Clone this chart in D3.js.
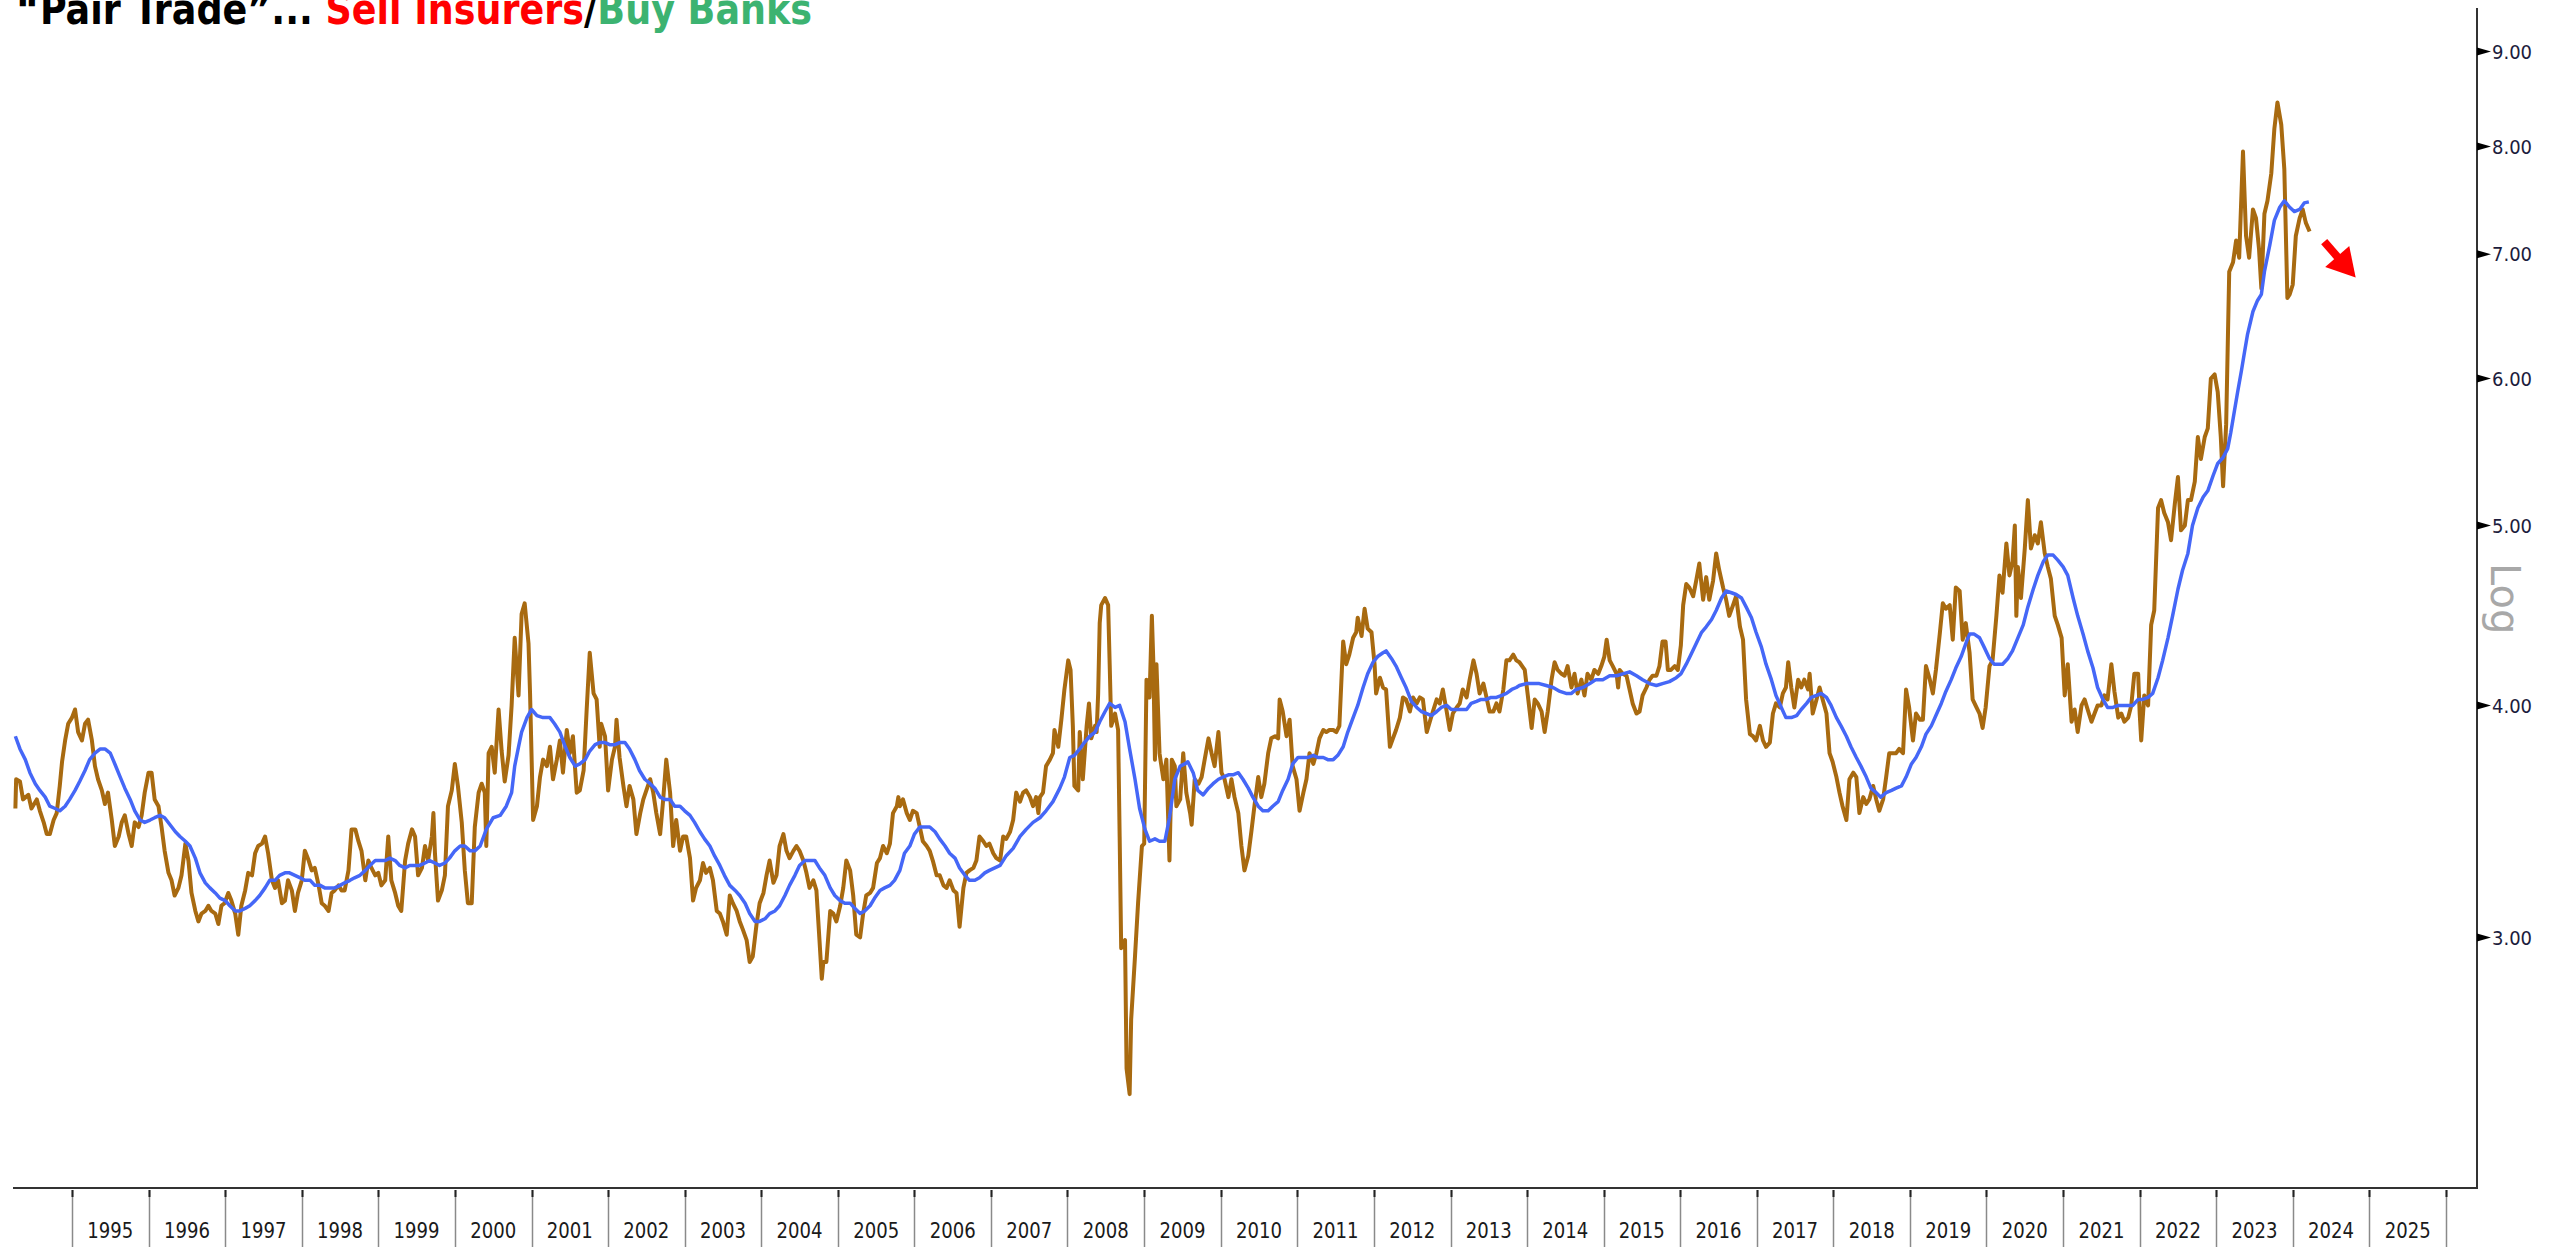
<!DOCTYPE html>
<html>
<head>
<meta charset="utf-8">
<script src="https://cdn.jsdelivr.net/npm/d3@7"></script>
<style>
  html, body { margin: 0; padding: 0; background: #fff; }
  svg { display: block; }
</style>
</head>
<body>
<svg id="chart" width="2561" height="1247"></svg>
<script>
// ---- data (decimal year, ratio) ----
const titleParts = ['\u201CPair Trade\u201D... ', 'Sell Insurers', '/', 'Buy Banks'];
const yearLabels = ['1995','1996','1997','1998','1999','2000','2001','2002','2003','2004','2005','2006','2007','2008','2009','2010','2011','2012','2013','2014','2015','2016','2017','2018','2019','2020','2021','2022','2023','2024','2025'];
const priceTicks = [3, 4, 5, 6, 7, 8, 9];
const axisTitle = 'Log';

// insurers / banks ratio, weekly-ish readings
const ratio = [
[1994.26,3.52],[1994.27,3.65],[1994.32,3.64],[1994.36,3.56],[1994.43,3.58],[1994.47,3.52],[1994.54,3.56],[1994.58,3.51],[1994.63,3.46],[1994.67,3.41],[1994.71,3.41],[1994.76,3.47],[1994.80,3.50],[1994.84,3.62],[1994.87,3.73],[1994.91,3.83],[1994.95,3.91],[1995.00,3.94],[1995.04,3.98],[1995.08,3.87],[1995.13,3.83],[1995.17,3.91],[1995.21,3.93],[1995.26,3.83],[1995.30,3.71],[1995.34,3.65],[1995.39,3.60],[1995.43,3.54],[1995.47,3.59],[1995.52,3.47],[1995.56,3.36],[1995.61,3.40],[1995.65,3.46],[1995.69,3.49],[1995.74,3.41],[1995.78,3.36],[1995.82,3.46],[1995.87,3.44],[1995.91,3.49],[1995.95,3.59],[1996.00,3.68],[1996.04,3.68],[1996.08,3.56],[1996.13,3.53],[1996.17,3.44],[1996.21,3.34],[1996.26,3.25],[1996.30,3.22],[1996.34,3.16],[1996.39,3.19],[1996.43,3.24],[1996.48,3.37],[1996.52,3.30],[1996.56,3.17],[1996.61,3.10],[1996.65,3.06],[1996.69,3.09],[1996.74,3.10],[1996.78,3.12],[1996.82,3.10],[1996.87,3.09],[1996.91,3.05],[1996.95,3.12],[1996.99,3.13],[1997.04,3.17],[1997.08,3.14],[1997.13,3.09],[1997.17,3.01],[1997.21,3.12],[1997.26,3.18],[1997.30,3.25],[1997.35,3.24],[1997.39,3.33],[1997.43,3.36],[1997.48,3.37],[1997.52,3.40],[1997.56,3.33],[1997.61,3.22],[1997.65,3.19],[1997.69,3.22],[1997.74,3.13],[1997.78,3.14],[1997.82,3.22],[1997.87,3.18],[1997.91,3.10],[1997.95,3.17],[1998.00,3.22],[1998.04,3.34],[1998.09,3.30],[1998.13,3.26],[1998.17,3.27],[1998.22,3.20],[1998.26,3.13],[1998.30,3.12],[1998.35,3.10],[1998.39,3.17],[1998.43,3.18],[1998.48,3.20],[1998.52,3.18],[1998.56,3.18],[1998.61,3.26],[1998.65,3.43],[1998.70,3.43],[1998.74,3.38],[1998.78,3.34],[1998.83,3.22],[1998.87,3.30],[1998.91,3.27],[1998.96,3.24],[1999.00,3.25],[1999.04,3.20],[1999.09,3.22],[1999.13,3.40],[1999.17,3.22],[1999.22,3.17],[1999.26,3.12],[1999.30,3.10],[1999.35,3.30],[1999.39,3.37],[1999.44,3.43],[1999.48,3.40],[1999.52,3.24],[1999.57,3.27],[1999.61,3.36],[1999.65,3.30],[1999.70,3.40],[1999.72,3.50],[1999.74,3.33],[1999.78,3.14],[1999.83,3.18],[1999.87,3.24],[1999.91,3.53],[1999.96,3.60],[2000.00,3.72],[2000.04,3.62],[2000.09,3.46],[2000.13,3.26],[2000.17,3.13],[2000.22,3.13],[2000.26,3.44],[2000.31,3.59],[2000.35,3.63],[2000.39,3.59],[2000.41,3.36],[2000.44,3.77],[2000.48,3.80],[2000.52,3.68],[2000.57,3.98],[2000.61,3.78],[2000.65,3.64],[2000.70,3.76],[2000.74,4.00],[2000.78,4.35],[2000.83,4.05],
[2000.87,4.48],[2000.91,4.54],[2000.96,4.32],[2000.98,4.06],[2001.02,3.47],[2001.07,3.53],[2001.11,3.66],[2001.15,3.74],[2001.20,3.71],[2001.24,3.80],[2001.28,3.65],[2001.33,3.74],[2001.37,3.83],[2001.41,3.68],[2001.46,3.88],[2001.50,3.77],[2001.54,3.85],[2001.59,3.59],[2001.63,3.60],[2001.68,3.69],[2001.72,3.98],[2001.76,4.27],[2001.81,4.06],[2001.85,4.03],[2001.89,3.80],[2001.91,3.91],[2001.96,3.85],[2002.00,3.60],[2002.05,3.74],[2002.09,3.80],[2002.11,3.93],[2002.15,3.75],[2002.20,3.62],[2002.24,3.53],[2002.28,3.62],[2002.33,3.56],[2002.37,3.41],[2002.42,3.50],[2002.46,3.56],[2002.50,3.60],[2002.55,3.65],[2002.59,3.59],[2002.63,3.50],[2002.68,3.41],[2002.72,3.56],[2002.76,3.74],[2002.81,3.59],[2002.85,3.36],[2002.89,3.47],[2002.94,3.34],[2002.98,3.40],[2003.02,3.40],[2003.07,3.31],[2003.11,3.14],[2003.15,3.19],[2003.20,3.22],[2003.24,3.29],[2003.28,3.25],[2003.33,3.27],[2003.37,3.22],[2003.42,3.10],[2003.46,3.09],[2003.50,3.06],[2003.55,3.01],[2003.59,3.16],[2003.63,3.13],[2003.68,3.10],[2003.72,3.06],[2003.76,3.03],[2003.81,2.99],[2003.85,2.91],[2003.89,2.93],[2003.94,3.05],[2003.98,3.13],[2004.03,3.17],[2004.07,3.24],[2004.11,3.30],[2004.16,3.21],[2004.20,3.24],[2004.24,3.36],[2004.29,3.41],[2004.33,3.34],[2004.37,3.31],[2004.42,3.34],[2004.46,3.36],[2004.50,3.34],[2004.55,3.30],[2004.59,3.25],[2004.63,3.19],[2004.68,3.22],[2004.72,3.18],[2004.76,2.99],[2004.79,2.85],[2004.81,2.91],[2004.85,2.91],[2004.90,3.10],[2004.94,3.09],[2004.98,3.06],[2005.03,3.12],[2005.07,3.19],[2005.11,3.30],[2005.16,3.26],[2005.20,3.16],[2005.24,3.01],[2005.29,3.00],[2005.33,3.09],[2005.37,3.16],[2005.42,3.17],[2005.46,3.19],[2005.51,3.29],[2005.55,3.31],[2005.59,3.36],[2005.64,3.33],[2005.68,3.37],[2005.72,3.50],[2005.77,3.53],[2005.79,3.57],[2005.81,3.53],[2005.85,3.56],[2005.90,3.50],[2005.94,3.47],[2005.98,3.51],[2006.03,3.50],[2006.07,3.44],[2006.11,3.38],[2006.16,3.36],[2006.20,3.34],[2006.24,3.30],[2006.29,3.24],[2006.33,3.24],[2006.38,3.20],[2006.42,3.19],[2006.46,3.22],[2006.51,3.18],[2006.55,3.17],[2006.59,3.04],[2006.64,3.19],[2006.68,3.25],[2006.72,3.26],[2006.77,3.27],[2006.81,3.30],[2006.85,3.40],[2006.90,3.38],[2006.94,3.36],[2006.98,3.37],[2007.03,3.33],[2007.07,3.31],
[2007.12,3.30],[2007.16,3.40],[2007.20,3.39],[2007.25,3.42],[2007.29,3.47],[2007.33,3.59],[2007.38,3.55],[2007.42,3.59],[2007.46,3.60],[2007.51,3.57],[2007.55,3.53],[2007.59,3.57],[2007.62,3.50],[2007.64,3.57],[2007.68,3.59],[2007.72,3.71],[2007.77,3.74],[2007.81,3.77],[2007.83,3.88],[2007.88,3.80],[2007.92,3.93],[2007.96,4.08],[2008.01,4.23],[2008.04,4.18],[2008.07,3.90],[2008.09,3.62],[2008.14,3.60],[2008.16,3.87],[2008.20,3.65],[2008.25,3.90],[2008.28,4.01],[2008.31,3.84],[2008.36,3.90],[2008.38,3.87],[2008.40,4.06],[2008.42,4.43],[2008.44,4.53],[2008.49,4.57],[2008.53,4.53],[2008.55,4.21],[2008.57,3.90],[2008.62,3.96],[2008.66,3.88],[2008.68,3.40],[2008.70,2.96],[2008.75,2.99],[2008.77,2.55],[2008.81,2.47],[2008.83,2.71],[2008.88,2.93],[2008.92,3.13],[2008.97,3.36],[2009.00,3.37],[2009.03,4.13],[2009.07,4.04],[2009.10,4.47],[2009.12,4.21],[2009.14,3.74],[2009.16,4.21],[2009.20,3.77],[2009.25,3.65],[2009.29,3.74],[2009.33,3.30],[2009.36,3.74],[2009.40,3.71],[2009.42,3.53],[2009.47,3.56],[2009.51,3.77],[2009.55,3.59],[2009.60,3.50],[2009.62,3.45],[2009.66,3.65],[2009.71,3.63],[2009.75,3.66],[2009.79,3.74],[2009.84,3.84],[2009.88,3.77],[2009.92,3.71],[2009.97,3.87],[2010.01,3.68],[2010.05,3.65],[2010.10,3.57],[2010.14,3.65],[2010.18,3.57],[2010.23,3.50],[2010.27,3.36],[2010.31,3.26],[2010.36,3.32],[2010.40,3.42],[2010.44,3.53],[2010.49,3.66],[2010.53,3.57],[2010.57,3.63],[2010.62,3.77],[2010.66,3.84],[2010.71,3.85],[2010.75,3.84],[2010.77,4.03],[2010.81,3.97],[2010.86,3.85],[2010.90,3.93],[2010.94,3.71],[2010.99,3.65],[2011.03,3.51],[2011.08,3.59],[2011.12,3.65],[2011.16,3.77],[2011.21,3.72],[2011.25,3.77],[2011.29,3.84],[2011.34,3.88],[2011.38,3.87],[2011.42,3.88],[2011.47,3.88],[2011.51,3.87],[2011.55,3.90],[2011.60,4.33],[2011.64,4.21],[2011.68,4.26],[2011.73,4.35],[2011.77,4.38],[2011.79,4.46],[2011.84,4.36],[2011.88,4.51],[2011.92,4.40],[2011.97,4.38],[2012.01,4.21],[2012.03,4.06],[2012.08,4.14],[2012.12,4.09],[2012.16,4.08],[2012.21,3.80],[2012.25,3.84],[2012.29,3.88],[2012.34,3.94],[2012.38,4.04],[2012.42,4.03],[2012.47,3.97],[2012.51,4.04],[2012.56,4.01],[2012.60,4.04],[2012.64,4.03],[2012.69,3.87],[2012.73,3.92],[2012.77,3.97],[2012.82,4.03],[2012.86,4.01],[2012.90,4.08],[2012.95,3.97],[2012.99,3.88],[2013.03,3.96],[2013.08,3.99],[2013.12,4.01],[2013.16,4.08],[2013.21,4.04],[2013.25,4.13],[2013.30,4.23],[2013.34,4.16],[2013.38,4.06],[2013.43,4.11],[2013.47,4.04],[2013.51,3.97],[2013.56,3.97],[2013.60,4.01],[2013.64,3.97],[2013.69,4.08],[2013.73,4.23],[2013.77,4.23],[2013.82,4.26],[2013.86,4.23],
[2013.90,4.22],[2013.97,4.18],[2014.01,4.05],[2014.06,3.89],[2014.10,4.03],[2014.14,4.01],[2014.19,3.97],[2014.23,3.87],[2014.27,3.97],[2014.32,4.13],[2014.36,4.22],[2014.40,4.18],[2014.45,4.16],[2014.49,4.15],[2014.53,4.20],[2014.58,4.09],[2014.62,4.16],[2014.66,4.06],[2014.71,4.13],[2014.75,4.05],[2014.79,4.16],[2014.84,4.13],[2014.88,4.18],[2014.93,4.16],[2014.97,4.20],[2015.01,4.25],[2015.04,4.34],[2015.08,4.23],[2015.12,4.20],[2015.17,4.16],[2015.19,4.09],[2015.21,4.18],[2015.25,4.16],[2015.30,4.15],[2015.34,4.08],[2015.38,4.01],[2015.43,3.96],[2015.47,3.97],[2015.51,4.05],[2015.56,4.09],[2015.60,4.13],[2015.64,4.15],[2015.69,4.15],[2015.73,4.20],[2015.77,4.33],[2015.81,4.33],[2015.84,4.18],[2015.88,4.18],[2015.93,4.20],[2015.97,4.18],[2016.01,4.31],[2016.04,4.53],[2016.08,4.65],[2016.12,4.63],[2016.17,4.58],[2016.21,4.67],[2016.25,4.77],[2016.30,4.56],[2016.34,4.69],[2016.38,4.56],[2016.43,4.67],[2016.47,4.83],[2016.51,4.73],[2016.56,4.63],[2016.60,4.56],[2016.64,4.47],[2016.69,4.53],[2016.73,4.58],[2016.78,4.41],[2016.82,4.34],[2016.86,4.03],[2016.91,3.86],[2016.95,3.85],[2016.99,3.83],[2017.04,3.90],[2017.08,3.83],[2017.12,3.80],[2017.17,3.82],[2017.21,3.96],[2017.25,4.01],[2017.30,3.99],[2017.34,4.06],[2017.38,4.09],[2017.41,4.22],[2017.45,4.09],[2017.49,3.99],[2017.54,4.13],[2017.58,4.09],[2017.62,4.13],[2017.67,4.08],[2017.69,4.16],[2017.73,3.96],[2017.78,4.03],[2017.82,4.09],[2017.86,4.03],[2017.91,3.96],[2017.95,3.77],[2017.99,3.73],[2018.04,3.66],[2018.08,3.59],[2018.12,3.53],[2018.17,3.47],[2018.21,3.65],[2018.26,3.68],[2018.30,3.66],[2018.34,3.50],[2018.39,3.57],[2018.43,3.54],[2018.47,3.56],[2018.52,3.62],[2018.56,3.56],[2018.60,3.51],[2018.65,3.56],[2018.69,3.66],[2018.73,3.77],[2018.78,3.77],[2018.82,3.77],[2018.86,3.79],[2018.91,3.77],[2018.95,4.08],[2018.99,3.99],[2019.04,3.83],[2019.08,3.96],[2019.13,3.93],[2019.17,3.93],[2019.21,4.20],[2019.26,4.13],[2019.30,4.06],[2019.34,4.18],[2019.39,4.37],[2019.43,4.54],[2019.47,4.51],[2019.52,4.53],[2019.56,4.34],[2019.60,4.63],[2019.65,4.61],[2019.69,4.34],[2019.73,4.43],[2019.78,4.27],[2019.82,4.03],[2019.87,3.99],[2019.91,3.96],[2019.95,3.89],[2019.99,3.99],[2020.04,4.20],[2020.08,4.23],[2020.13,4.47],
[2020.17,4.70],[2020.21,4.60],[2020.26,4.89],[2020.30,4.70],[2020.34,4.78],[2020.37,5.00],[2020.39,4.47],[2020.41,4.75],[2020.45,4.57],[2020.50,4.86],[2020.54,5.16],[2020.58,4.86],[2020.63,4.94],[2020.67,4.89],[2020.71,5.02],[2020.76,4.83],[2020.80,4.75],[2020.84,4.68],[2020.89,4.47],[2020.93,4.42],[2020.98,4.35],[2021.02,4.05],[2021.06,4.21],[2021.11,3.92],[2021.15,3.98],[2021.19,3.87],[2021.24,4.00],[2021.28,4.03],[2021.32,3.98],[2021.37,3.92],[2021.41,3.96],[2021.45,4.00],[2021.50,4.00],[2021.54,4.05],[2021.58,4.03],[2021.63,4.21],[2021.67,4.07],[2021.72,3.94],[2021.76,3.96],[2021.80,3.92],[2021.85,3.94],[2021.89,4.00],[2021.93,4.16],[2021.98,4.16],[2022.00,3.96],[2022.02,3.83],[2022.06,4.05],[2022.11,4.00],[2022.15,4.42],[2022.19,4.50],[2022.24,5.11],[2022.28,5.16],[2022.32,5.08],[2022.37,5.02],[2022.41,4.91],[2022.46,5.14],[2022.50,5.31],[2022.54,4.97],[2022.59,5.00],[2022.63,5.16],[2022.67,5.16],[2022.72,5.28],[2022.76,5.58],[2022.80,5.43],[2022.85,5.58],[2022.89,5.64],[2022.93,6.00],[2022.98,6.03],[2023.02,5.90],[2023.06,5.58],[2023.09,5.25],[2023.13,5.67],[2023.17,6.85],[2023.22,6.93],[2023.26,7.12],[2023.30,6.97],[2023.35,7.95],[2023.39,7.16],[2023.43,6.97],[2023.48,7.40],[2023.52,7.32],[2023.56,7.04],[2023.59,6.71],[2023.63,7.36],[2023.67,7.48],[2023.72,7.74],[2023.76,8.18],[2023.80,8.45],[2023.85,8.22],[2023.89,7.78],[2023.93,6.63],[2023.96,6.66],[2024.00,6.74],[2024.04,7.16],[2024.09,7.32],[2024.13,7.40],[2024.17,7.28],[2024.22,7.20]
];

// moving average of the ratio
const ratioAverage = [
[1994.26,3.85],[1994.32,3.79],[1994.39,3.74],[1994.45,3.68],[1994.52,3.63],[1994.58,3.60],[1994.65,3.57],[1994.71,3.53],[1994.78,3.52],[1994.84,3.51],[1994.91,3.53],[1994.97,3.56],[1995.04,3.60],[1995.10,3.64],[1995.17,3.69],[1995.23,3.74],[1995.30,3.77],[1995.37,3.79],[1995.43,3.79],[1995.50,3.77],[1995.56,3.72],[1995.63,3.66],[1995.69,3.61],[1995.76,3.56],[1995.82,3.51],[1995.89,3.47],[1995.95,3.46],[1996.02,3.47],[1996.08,3.48],[1996.15,3.49],[1996.21,3.48],[1996.28,3.45],[1996.35,3.42],[1996.41,3.40],[1996.48,3.38],[1996.54,3.36],[1996.61,3.31],[1996.67,3.25],[1996.74,3.21],[1996.80,3.19],[1996.87,3.17],[1996.93,3.15],[1997.00,3.14],[1997.06,3.12],[1997.13,3.10],[1997.19,3.10],[1997.26,3.11],[1997.32,3.12],[1997.39,3.14],[1997.45,3.16],[1997.52,3.19],[1997.58,3.22],[1997.65,3.22],[1997.71,3.24],[1997.78,3.25],[1997.84,3.25],[1997.91,3.24],[1997.98,3.23],[1998.04,3.22],[1998.11,3.22],[1998.17,3.20],[1998.24,3.20],[1998.30,3.19],[1998.37,3.19],[1998.43,3.19],[1998.50,3.20],[1998.56,3.21],[1998.63,3.22],[1998.69,3.23],[1998.76,3.24],[1998.83,3.26],[1998.89,3.28],[1998.96,3.30],[1999.02,3.30],[1999.09,3.30],[1999.15,3.31],[1999.22,3.30],[1999.28,3.28],[1999.35,3.27],[1999.41,3.28],[1999.48,3.28],[1999.54,3.28],[1999.61,3.29],[1999.67,3.30],[1999.74,3.29],[1999.80,3.28],[1999.87,3.29],[1999.93,3.31],[2000.00,3.34],[2000.07,3.36],[2000.13,3.36],[2000.20,3.34],[2000.26,3.34],[2000.33,3.36],[2000.41,3.43],[2000.50,3.48],[2000.59,3.49],[2000.67,3.53],[2000.74,3.59],[2000.78,3.71],[2000.83,3.80],[2000.87,3.87],[2000.94,3.94],[2001.00,3.98],[2001.07,3.95],[2001.15,3.94],[2001.24,3.94],[2001.30,3.91],[2001.37,3.87],[2001.44,3.80],[2001.50,3.75],[2001.57,3.71],[2001.63,3.72],[2001.70,3.74],[2001.76,3.78],[2001.83,3.81],[2001.89,3.82],[2001.96,3.82],[2002.02,3.81],[2002.09,3.81],[2002.15,3.82],[2002.22,3.82],[2002.28,3.79],[2002.35,3.74],[2002.41,3.69],[2002.48,3.65],[2002.55,3.63],[2002.61,3.61],[2002.68,3.57],[2002.74,3.56],[2002.81,3.56],[2002.87,3.53],[2002.94,3.53],[2003.00,3.51],[2003.07,3.49],[2003.13,3.46],[2003.20,3.42],[2003.26,3.39],[2003.33,3.36],[2003.39,3.32],[2003.46,3.28],[2003.52,3.24],[2003.59,3.20],[2003.66,3.18],[2003.72,3.16],[2003.79,3.13],[2003.85,3.09],[2003.92,3.06],[2003.98,3.06],[2004.05,3.07],[2004.11,3.09],[2004.18,3.10],[2004.24,3.12],[2004.31,3.16],[2004.37,3.20],[2004.44,3.24],[2004.50,3.28],[2004.57,3.30],[2004.63,3.30],[2004.70,3.30],[2004.76,3.27],[2004.83,3.24],[2004.90,3.19],[2004.96,3.16],[2005.03,3.14],[2005.09,3.13],[2005.16,3.13],[2005.22,3.11],[2005.29,3.09],[2005.35,3.10],[2005.42,3.12],[2005.48,3.15],[2005.55,3.18],[2005.61,3.19],[2005.68,3.20],[2005.74,3.22],[2005.81,3.26],[2005.87,3.33],[2005.94,3.36],[2006.00,3.41],[2006.07,3.44],[2006.14,3.44],[2006.20,3.44],[2006.27,3.42],[2006.33,3.39],[2006.40,3.36],[2006.46,3.33],[2006.53,3.31],[2006.59,3.27],[2006.66,3.24],[2006.72,3.22],[2006.79,3.22],[2006.85,3.23],[2006.92,3.25],[2006.98,3.26],[2007.05,3.27],[2007.12,3.28],
[2007.20,3.32],[2007.29,3.35],[2007.38,3.40],[2007.46,3.43],[2007.55,3.46],[2007.64,3.48],[2007.72,3.51],[2007.81,3.55],[2007.90,3.61],[2007.96,3.66],[2008.03,3.75],[2008.09,3.76],[2008.16,3.79],[2008.22,3.82],[2008.29,3.85],[2008.36,3.87],[2008.42,3.92],[2008.49,3.97],[2008.55,4.01],[2008.62,3.99],[2008.68,4.00],[2008.75,3.92],[2008.81,3.79],[2008.88,3.65],[2008.94,3.52],[2009.01,3.43],[2009.07,3.38],[2009.14,3.39],[2009.20,3.38],[2009.27,3.38],[2009.33,3.48],[2009.40,3.65],[2009.47,3.71],[2009.53,3.72],[2009.57,3.73],[2009.64,3.68],[2009.70,3.60],[2009.77,3.58],[2009.84,3.61],[2009.90,3.63],[2009.97,3.65],[2010.03,3.66],[2010.10,3.67],[2010.16,3.67],[2010.23,3.68],[2010.29,3.65],[2010.36,3.61],[2010.42,3.57],[2010.49,3.53],[2010.55,3.51],[2010.62,3.51],[2010.68,3.53],[2010.75,3.55],[2010.81,3.60],[2010.88,3.65],[2010.94,3.72],[2011.01,3.75],[2011.08,3.75],[2011.14,3.75],[2011.21,3.76],[2011.27,3.75],[2011.34,3.75],[2011.40,3.74],[2011.47,3.74],[2011.53,3.76],[2011.60,3.80],[2011.66,3.87],[2011.73,3.94],[2011.79,4.00],[2011.86,4.09],[2011.92,4.16],[2011.99,4.22],[2012.05,4.25],[2012.12,4.27],[2012.16,4.28],[2012.23,4.24],[2012.29,4.20],[2012.36,4.14],[2012.42,4.09],[2012.49,4.02],[2012.56,3.99],[2012.62,3.97],[2012.69,3.96],[2012.75,3.95],[2012.82,3.97],[2012.88,3.99],[2012.95,4.00],[2013.01,3.98],[2013.08,3.98],[2013.14,3.98],[2013.21,3.98],[2013.27,4.01],[2013.34,4.02],[2013.40,4.03],[2013.47,4.03],[2013.53,4.04],[2013.60,4.04],[2013.67,4.05],[2013.73,4.06],[2013.80,4.08],[2013.86,4.09],
[2013.90,4.10],[2013.99,4.11],[2014.08,4.11],[2014.16,4.11],[2014.25,4.10],[2014.34,4.09],[2014.43,4.07],[2014.51,4.06],[2014.58,4.06],[2014.64,4.08],[2014.73,4.09],[2014.82,4.11],[2014.90,4.13],[2014.99,4.13],[2015.08,4.15],[2015.17,4.15],[2015.25,4.16],[2015.34,4.17],[2015.43,4.15],[2015.51,4.13],[2015.60,4.11],[2015.69,4.10],[2015.77,4.11],[2015.86,4.12],[2015.95,4.14],[2016.01,4.16],[2016.08,4.21],[2016.14,4.26],[2016.21,4.32],[2016.28,4.38],[2016.34,4.41],[2016.41,4.45],[2016.47,4.50],[2016.54,4.57],[2016.60,4.61],[2016.67,4.60],[2016.73,4.59],[2016.80,4.57],[2016.86,4.52],[2016.93,4.46],[2016.99,4.38],[2017.06,4.30],[2017.12,4.21],[2017.19,4.13],[2017.25,4.05],[2017.32,3.99],[2017.38,3.94],[2017.45,3.94],[2017.52,3.95],[2017.58,3.98],[2017.65,4.01],[2017.71,4.04],[2017.78,4.05],[2017.84,4.06],[2017.91,4.04],[2017.97,4.00],[2018.04,3.94],[2018.10,3.90],[2018.17,3.85],[2018.23,3.80],[2018.30,3.75],[2018.36,3.71],[2018.43,3.66],[2018.49,3.61],[2018.56,3.59],[2018.62,3.57],[2018.69,3.59],[2018.76,3.60],[2018.82,3.61],[2018.89,3.62],[2018.95,3.66],[2019.02,3.72],[2019.08,3.75],[2019.15,3.80],[2019.21,3.86],[2019.28,3.90],[2019.34,3.95],[2019.41,4.01],[2019.47,4.07],[2019.54,4.13],[2019.60,4.19],[2019.67,4.25],[2019.74,4.33],[2019.78,4.37],[2019.84,4.37],[2019.91,4.35],[2019.97,4.30],[2020.04,4.24],[2020.10,4.21],[2020.17,4.21],
[2020.21,4.21],[2020.28,4.24],[2020.34,4.28],[2020.41,4.35],[2020.48,4.42],[2020.54,4.52],[2020.61,4.62],[2020.67,4.70],[2020.74,4.78],[2020.80,4.82],[2020.87,4.82],[2020.93,4.79],[2021.00,4.75],[2021.06,4.70],[2021.13,4.57],[2021.19,4.47],[2021.26,4.37],[2021.32,4.28],[2021.39,4.19],[2021.45,4.09],[2021.52,4.03],[2021.58,3.99],[2021.65,3.99],[2021.72,4.00],[2021.78,4.00],[2021.85,4.00],[2021.91,4.00],[2021.98,4.03],[2022.04,4.03],[2022.11,4.04],[2022.17,4.06],[2022.24,4.14],[2022.30,4.23],[2022.37,4.35],[2022.43,4.47],[2022.50,4.62],[2022.56,4.73],[2022.63,4.83],[2022.69,5.00],[2022.76,5.11],[2022.83,5.18],[2022.89,5.22],[2022.96,5.32],[2023.02,5.40],[2023.09,5.44],[2023.15,5.50],[2023.19,5.61],[2023.24,5.77],[2023.28,5.90],[2023.33,6.06],[2023.37,6.20],[2023.41,6.34],[2023.48,6.52],[2023.54,6.61],[2023.59,6.66],[2023.63,6.85],[2023.70,7.08],[2023.76,7.30],[2023.83,7.42],[2023.89,7.48],[2023.96,7.42],[2024.02,7.38],[2024.09,7.40],[2024.15,7.46],[2024.21,7.47]
];

// annotation arrow: from / to (decimal year, ratio)
const arrowFrom = [2024.41, 7.11];
const arrowTo = [2024.82, 6.80];

// ---- layout ----
const W = 2561, H = 1247;
const plot = { left: 13, right: 2477, top: 8, bottom: 1188 };

const toDate = t => {
  const y = Math.floor(t);
  const a = Date.UTC(y, 0, 1), b = Date.UTC(y + 1, 0, 1);
  return new Date(a + (t - y) * (b - a));
};

const svg = d3.select('#chart');

const x = d3.scaleUtc()
  .domain([new Date(Date.UTC(1995, 0, 1)), new Date(Date.UTC(2026, 0, 1))])
  .range([72, 2446]);

const y = d3.scaleLog()
  .domain([2.204, 9.50])
  .range([1186, 8]);

// frame: bottom + right axis lines
svg.append('line')
  .attr('x1', plot.left).attr('x2', plot.right)
  .attr('y1', plot.bottom).attr('y2', plot.bottom)
  .attr('stroke', '#333').attr('stroke-width', 2);

svg.append('line')
  .attr('x1', plot.right).attr('x2', plot.right)
  .attr('y1', plot.top).attr('y2', plot.bottom + 1)
  .attr('stroke', '#333').attr('stroke-width', 2);

// year separators and labels
const yearStarts = yearLabels.map(d => new Date(Date.UTC(+d, 0, 1)))
  .concat([new Date(Date.UTC(+yearLabels[yearLabels.length - 1] + 1, 0, 1))]);

const sep = svg.append('g').attr('class', 'year-seps');
sep.selectAll('line.sep')
  .data(yearStarts)
  .enter().append('line')
  .attr('class', 'sep')
  .attr('x1', d => Math.round(x(d)) + 0.5).attr('x2', d => Math.round(x(d)) + 0.5)
  .attr('y1', plot.bottom + 2).attr('y2', H)
  .attr('stroke', '#8a8a8a').attr('stroke-width', 1.5);
sep.selectAll('line.tk')
  .data(yearStarts)
  .enter().append('line')
  .attr('class', 'tk')
  .attr('x1', d => Math.round(x(d)) + 0.5).attr('x2', d => Math.round(x(d)) + 0.5)
  .attr('y1', plot.bottom + 2).attr('y2', plot.bottom + 9)
  .attr('stroke', '#222').attr('stroke-width', 2);

svg.append('g').attr('class', 'year-labels')
  .selectAll('text')
  .data(yearLabels)
  .enter().append('text')
  .attr('x', d => x(toDate(+d + 0.5)))
  .attr('y', 1238)
  .attr('text-anchor', 'middle')
  .style('font-family', '"Liberation Sans Narrow", "DejaVu Sans Condensed", "Open Sans", sans-serif')
  .style('font-stretch', 'condensed')
  .style('font-size', '22px')
  .style('fill', '#1a1a1a')
  .attr('textLength', 46)
  .attr('lengthAdjust', 'spacingAndGlyphs')
  .text(d => d);

// right log axis
const rAxis = svg.append('g').attr('class', 'y-axis');
rAxis.selectAll('path.mark')
  .data(priceTicks)
  .enter().append('path')
  .attr('class', 'mark')
  .attr('d', d => {
    const yy = y(d);
    return `M${plot.right},${yy - 4}L${plot.right + 14},${yy}L${plot.right},${yy + 4}Z`;
  })
  .attr('fill', '#000');

rAxis.selectAll('text')
  .data(priceTicks)
  .enter().append('text')
  .attr('x', plot.right + 15)
  .attr('y', d => y(d))
  .attr('dy', '0.36em')
  .style('font-family', '"DejaVu Sans Condensed", "DejaVu Sans", sans-serif')
  .style('font-stretch', 'condensed')
  .style('font-size', '20px')
  .style('fill', '#1c1c3c')
  .text(d => d3.format('.2f')(d));

svg.append('text')
  .attr('transform', `translate(2491, 563) rotate(90)`)
  .style('font-family', '"DejaVu Sans", sans-serif')
  .style('font-size', '40px')
  .style('fill', '#a8a8a8')
  .text(axisTitle);

// series
const line = d3.line()
  .x(d => x(toDate(d[0])))
  .y(d => y(d[1]));

svg.append('path')
  .datum(ratio)
  .attr('d', line)
  .attr('fill', 'none')
  .attr('stroke', '#a86a10')
  .attr('stroke-width', 4)
  .attr('stroke-linejoin', 'round');

svg.append('path')
  .datum(ratioAverage)
  .attr('d', line)
  .attr('fill', 'none')
  .attr('stroke', '#4567f7')
  .attr('stroke-width', 3.5)
  .attr('stroke-linejoin', 'round');

// red arrow
const p0 = [x(toDate(arrowFrom[0])), y(arrowFrom[1])];
const p1 = [x(toDate(arrowTo[0])), y(arrowTo[1])];
const len = Math.hypot(p1[0] - p0[0], p1[1] - p0[1]);
const u = [(p1[0] - p0[0]) / len, (p1[1] - p0[1]) / len];
const n = [-u[1], u[0]];
const headL = 28, headW = 16;
const base = [p1[0] - u[0] * headL, p1[1] - u[1] * headL];
svg.append('line')
  .attr('x1', p0[0]).attr('y1', p0[1])
  .attr('x2', base[0] + u[0] * 2).attr('y2', base[1] + u[1] * 2)
  .attr('stroke', '#ff0000').attr('stroke-width', 8);
svg.append('path')
  .attr('d', `M${p1[0]},${p1[1]}L${base[0] + n[0] * headW},${base[1] + n[1] * headW}L${base[0] - n[0] * headW},${base[1] - n[1] * headW}Z`)
  .attr('fill', '#ff0000');

// title (top edge cropped like the source)
const title = svg.append('text')
  .attr('x', 16)
  .attr('y', 24)
  .style('font-family', '"Liberation Sans Narrow", "DejaVu Sans Condensed", "Open Sans", sans-serif')
  .style('font-stretch', 'condensed')
  .style('font-weight', 'bold')
  .style('font-size', '42px');
const titleColors = ['#000', '#ff0000', '#000', '#3cb371'];
titleParts.forEach((t, i) => {
  title.append('tspan').style('fill', titleColors[i]).text(t);
});
title.attr('textLength', 796).attr('lengthAdjust', 'spacingAndGlyphs');
</script>
</body>
</html>
